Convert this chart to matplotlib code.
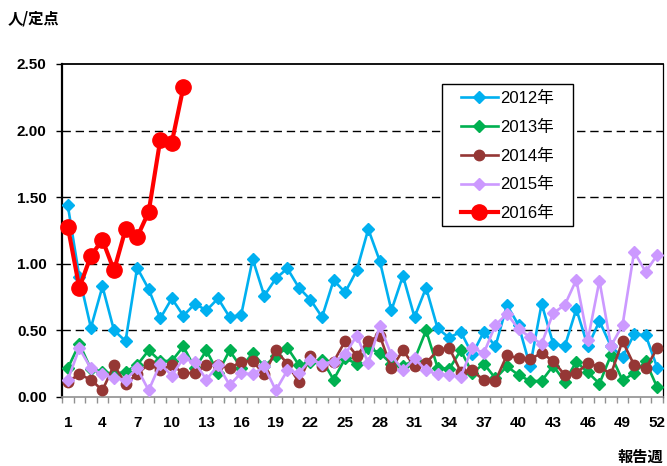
import matplotlib
matplotlib.use("Agg")
import matplotlib.pyplot as plt
from matplotlib.patches import Rectangle
from matplotlib.ticker import FixedLocator

plt.rcParams['font.family'] = ['Liberation Sans', 'Noto Sans CJK JP']

weeks = list(range(1, 53))
tick_weeks = list(range(1, 53, 3))
y_ticks = [0.0, 0.5, 1.0, 1.5, 2.0, 2.5]

y2012 = [1.44, 0.90, 0.52, 0.83, 0.50, 0.42, 0.97, 0.81, 0.59, 0.74,
         0.61, 0.70, 0.65, 0.74, 0.60, 0.615, 1.035, 0.76, 0.89, 0.965,
         0.82, 0.73, 0.60, 0.876, 0.786, 0.95, 1.26, 1.02, 0.65, 0.91,
         0.60, 0.82, 0.515, 0.445, 0.49, 0.32, 0.49, 0.38, 0.69, 0.54,
         0.23, 0.70, 0.40, 0.38, 0.66, 0.38, 0.57, 0.38, 0.30, 0.47,
         0.465, 0.22]
y2013 = [0.215, 0.40, 0.21, 0.19, 0.17, 0.19, 0.24, 0.35, 0.27, 0.27,
         0.38, 0.215, 0.35, 0.18, 0.35, 0.22, 0.33, 0.23, 0.31, 0.37,
         0.24, 0.26, 0.28, 0.13, 0.29, 0.25, 0.37, 0.33, 0.25, 0.23,
         0.28, 0.50, 0.22, 0.21, 0.35, 0.18, 0.25, 0.14, 0.23, 0.165,
         0.12, 0.12, 0.235, 0.115, 0.265, 0.185, 0.10, 0.315, 0.125, 0.178,
         0.268, 0.072]
y2014 = [0.115, 0.17, 0.13, 0.05, 0.24, 0.10, 0.17, 0.25, 0.20, 0.24,
         0.18, 0.18, 0.24, 0.24, 0.215, 0.265, 0.27, 0.17, 0.35, 0.25,
         0.11, 0.31, 0.23, 0.265, 0.42, 0.31, 0.42, 0.46, 0.215, 0.35,
         0.23, 0.255, 0.35, 0.37, 0.19, 0.20, 0.125, 0.12, 0.315, 0.29,
         0.283, 0.33, 0.27, 0.165, 0.18, 0.252, 0.227, 0.173, 0.42, 0.24,
         0.215, 0.365]
y2015 = [0.128, 0.365, 0.215, 0.17, 0.14, 0.13, 0.215, 0.05, 0.25, 0.16,
         0.29, 0.26, 0.13, 0.24, 0.09, 0.18, 0.17, 0.23, 0.05, 0.20,
         0.18, 0.28, 0.25, 0.265, 0.32, 0.46, 0.255, 0.535, 0.315, 0.20,
         0.29, 0.20, 0.17, 0.165, 0.15, 0.37, 0.33, 0.54, 0.625, 0.51,
         0.45, 0.40, 0.63, 0.69, 0.88, 0.43, 0.873, 0.383, 0.54, 1.09,
         0.94, 1.066]
y2016 = [1.28, 0.82, 1.06, 1.18, 0.95, 1.26, 1.20, 1.39, 1.93, 1.91, 2.325]

labels = ['2012年', '2013年', '2014年', '2015年', '2016年']
colors = ['#00B0F0', '#00B050', '#953735', '#CC99FF', '#FF0000']

fig = plt.figure(figsize=(6.67, 4.66), dpi=100)
ax = fig.add_axes([62/667, 69/466, 601/667, 333/466])

series = [y2012, y2013, y2014, y2015, y2016]
markers = ['D', 'D', 'o', 'D', 'o']
msizes = [6.5, 6.5, 7.5, 6.5, 11]
lws = [1.9, 1.9, 1.9, 1.9, 3.0]
handles = []
for ys, lab, c, m, ms, lw in zip(series, labels, colors, markers, msizes, lws):
    h, = ax.plot(weeks[:len(ys)], ys, color=c, marker=m, markersize=ms,
                 linewidth=lw, label=lab, zorder=3, clip_on=False)
    handles.append(h)

ax.set_xlim(0.5, 52.5)
ax.set_ylim(0, 2.5)
ax.yaxis.set_major_locator(FixedLocator(y_ticks))
ax.set_yticklabels([f'{v:.2f}' for v in y_ticks])
ax.xaxis.set_major_locator(FixedLocator(tick_weeks))
ax.set_xticklabels([str(w) for w in tick_weeks])
ax.xaxis.set_minor_locator(FixedLocator([w + 0.5 for w in range(0, 53)]))

for v in y_ticks[1:-1]:
    ax.axhline(v, color='black', linewidth=1.0, linestyle=(0, (6, 3.5)), zorder=1)

for lab in ax.get_xticklabels() + ax.get_yticklabels():
    lab.set_fontweight('bold')
    lab.set_fontsize(11)

ax.tick_params(axis='x', which='major', length=0, pad=14)
ax.tick_params(axis='x', which='minor', length=4, color='#909090', width=1, direction='out')
ax.tick_params(axis='y', which='major', length=4, color='black', width=1, direction='out', pad=7)

ax.spines['left'].set_linewidth(1.6)
ax.spines['left'].set_color('black')
ax.spines['bottom'].set_color('#909090')
ax.spines['bottom'].set_linewidth(1.2)
ax.spines['top'].set_linewidth(1.3)
ax.spines['right'].set_linewidth(0.9)

# legend box
box = Rectangle((442/667, (466-226)/466), 131/667, 142/466, transform=fig.transFigure,
                facecolor='white', edgecolor='black', linewidth=1.0, zorder=4)
ax.add_patch(box)
box.set_clip_on(False)
leg = ax.legend(handles=handles, labels=labels, loc='upper left',
                bbox_to_anchor=(461/667, (466-91)/466), bbox_transform=fig.transFigure,
                frameon=False, fontsize=12, borderpad=0, borderaxespad=0,
                handlelength=2.2, handletextpad=0.15, labelspacing=0.82)
leg.set_zorder(5)

fig.text(8/667, 1 - 18/466, '人/定点', fontsize=11, fontweight='bold',
         family=['Noto Sans CJK JP'], va='center', ha='left')
fig.text(663/667, 1 - 457/466, '報告週', fontsize=11, fontweight='bold',
         family=['Noto Sans CJK JP'], va='center', ha='right')

fig.savefig('out.png', dpi=100)
